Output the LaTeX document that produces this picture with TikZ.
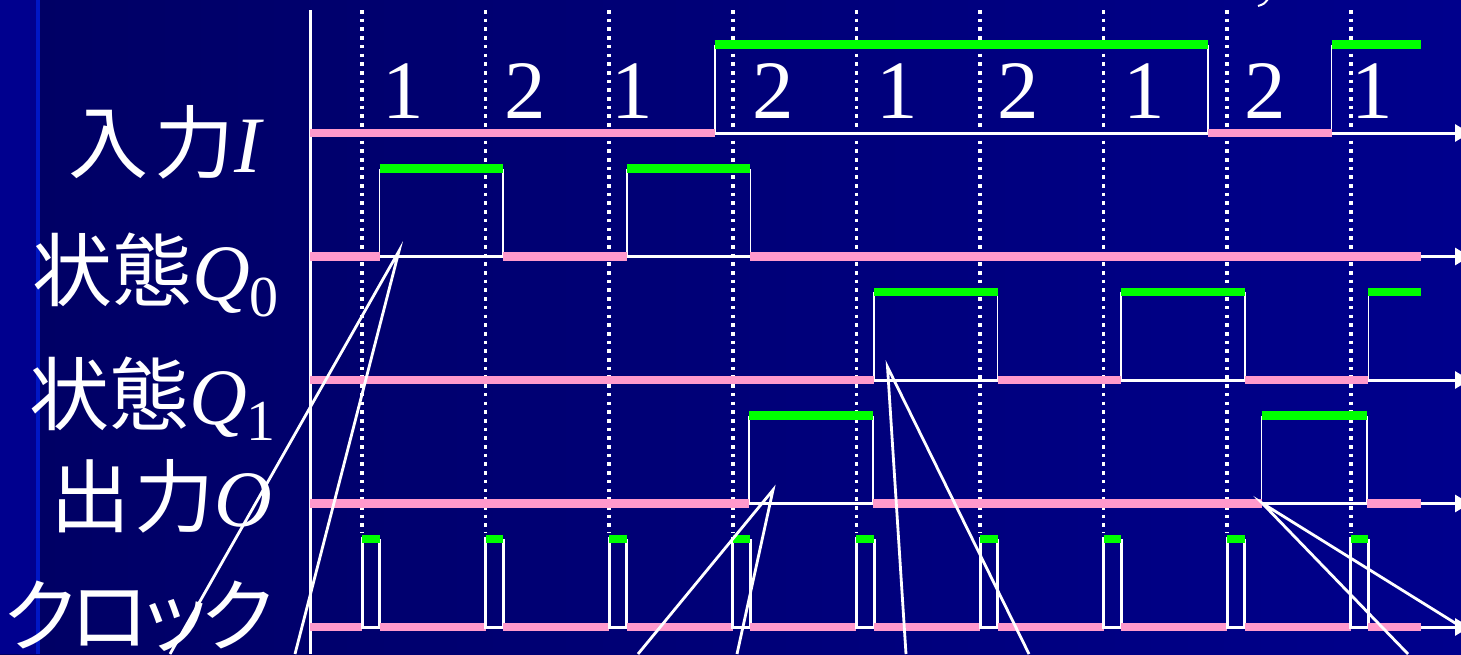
\documentclass[tikz,border=0pt]{standalone}
\usepackage{fontspec}
\setmainfont{Liberation Serif}
\newfontfamily\cjk{Noto Sans CJK JP}
\newfontfamily\cjkp[RawFeature=+palt]{Noto Sans CJK JP}
\usetikzlibrary{arrows.meta}

\begin{document}
\begin{tikzpicture}[x=1pt, y=-1pt, >={Triangle[length=15pt, width=17pt]},
  lowbar/.style={draw=pinksig, line width=8.5pt},
  highbar/.style={draw=greensig, line width=8.5pt},
  edge/.style={draw=white, line width=1.6pt},
  clkedge/.style={draw=white, line width=3pt},
  timeaxis/.style={draw=white, line width=3pt, ->},
  gridline/.style={draw=white, line width=3.6pt, dash pattern=on 3.6pt off 5.1pt},
  callout/.style={draw=white, line width=2.8pt},
  lbl/.style={text=white, inner sep=0pt, anchor=base east, font=\fontsize{80}{80}\selectfont},
  digit/.style={text=white, inner sep=0pt, anchor=base, font=\fontsize{83}{83}\selectfont}]
  \definecolor{navyL}{HTML}{000064}
  \definecolor{navyR}{HTML}{00008C}
  \definecolor{strip}{HTML}{00008E}
  \definecolor{pinksig}{HTML}{FF99CC}
  \definecolor{greensig}{HTML}{00FF00}
  \useasboundingbox (0,0) rectangle (1461,654);
  \shade[left color=navyL, right color=navyR] (0,0) rectangle (1461,654);
  \fill[strip] (0,0) rectangle (37,654);
  \fill[strip!85!cyan!60!blue] (36,0) rectangle (40,654);
  % time grid and axes
  \foreach \x in {362,485.6,609.2,732.8,856.4,980,1103.6,1227.2,1350.8}
    \draw[gridline] (\x,10) -- (\x,533);
  \draw[white, line width=3pt] (310,10) -- (310,654);
  \foreach \y in {133,256.5,380,503.5,627}
    \draw[timeaxis] (310,\y) -- (1470,\y);
  % input I
  \foreach \x in {714.7,1208,1331.5} \draw[edge] (\x,133) -- (\x,44.7);
  \foreach \a/\b in {714.7/1208,1331.5/1421} \draw[highbar] (\a,44.7) -- (\b,44.7);
  \foreach \a/\b in {310/714.7,1208/1331.5} \draw[lowbar] (\a,133) -- (\b,133);
  \foreach \x/\d in {403/1,525/2,632/1,773/2,897/1,1018/2,1144/1,1265/2,1372/1}
    \node[digit] (in\x) at (\x,118) {\d};
  % state Q0
  \foreach \x in {379.6,503.2,626.8,750.4} \draw[edge] (\x,256.5) -- (\x,168.5);
  \foreach \a/\b in {379.6/503.2,626.8/750.4} \draw[highbar] (\a,168.5) -- (\b,168.5);
  \foreach \a/\b in {310/379.6,503.2/626.8,750.4/1421} \draw[lowbar] (\a,256.5) -- (\b,256.5);
  % state Q1
  \foreach \x in {874,997.6,1121.2,1244.8,1368.4} \draw[edge] (\x,380) -- (\x,292);
  \foreach \a/\b in {874/997.6,1121.2/1244.8,1368.4/1421} \draw[highbar] (\a,292) -- (\b,292);
  \foreach \a/\b in {310/874,997.6/1121.2,1244.8/1368.4} \draw[lowbar] (\a,380) -- (\b,380);
  % output O
  \foreach \x in {749,873,1261.5,1367} \draw[edge] (\x,503.5) -- (\x,415.5);
  \foreach \a/\b in {749/873,1261.5/1367} \draw[highbar] (\a,415.5) -- (\b,415.5);
  \foreach \a/\b in {310/749,873/1261.5,1367/1421} \draw[lowbar] (\a,503.5) -- (\b,503.5);
  % clock
  \draw[lowbar] (310,627) -- (362,627);
  \foreach \r [evaluate=\r as \f using \r+17.6, evaluate=\r as \n using {min(\r+123.6,1421)}]
      in {362,485.6,609.2,732.8,856.4,980,1103.6,1227.2,1350.8} {
    \draw[clkedge] (\r,537) -- (\r,627) -- (\f,627) -- (\f,539);
    \draw[highbar] (\r,539) -- (\f,539);
    \draw[lowbar] (\f,627) -- (\n,627);
  }
  % signal names
  \node[lbl] (nameI) at (264,172) {{\cjk 入\kern6pt 力}\textit{I}};
  \node[lbl] (nameQ0) at (279,300) {{\cjk 状態}\textit{Q}\raisebox{-16pt}{\fontsize{58}{58}\selectfont 0}};
  \node[lbl] (nameQ1) at (276,424) {{\cjk 状態}\textit{Q}\raisebox{-16pt}{\fontsize{58}{58}\selectfont 1}};
  \node[lbl] (nameO) at (272,526) {{\cjk 出\kern4pt 力}\textit{O}};
  \node[lbl] (nameClk) at (274,645) {\cjkp ク\kern-5ptロ\kern-5ptッ\kern-5ptク};
  % callout tails
  \draw[callout] (170,654) -- (399,251) -- (295,654);
  \draw[callout] (638,654) -- (773,490) -- (737,654);
  \draw[callout] (906,654) -- (887.5,367) -- (1029,654);
  \draw[callout] (1408,654) -- (1262,503) -- (1476,636);
  \draw[white, line width=2pt] (1258,6) .. controls (1264,4) .. (1268,-1);
\end{tikzpicture}
\end{document}
